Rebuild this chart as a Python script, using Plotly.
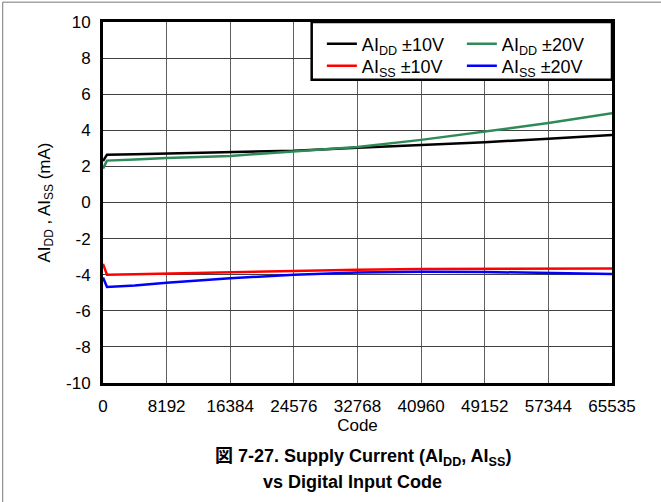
import plotly.graph_objects as go

# digital input code (x) and supply currents in mA (y)
code = [0, 512, 4096, 8192, 16384, 24576, 32768, 40960, 49152, 57344, 65535]
aidd_10v = [2.3, 2.65, 2.68, 2.71, 2.77, 2.87, 3.04, 3.17, 3.34, 3.53, 3.74]
aidd_20v = [1.88, 2.32, 2.38, 2.47, 2.58, 2.84, 3.08, 3.47, 3.93, 4.4, 4.94]
aiss_10v = [-3.4, -4.0, -3.98, -3.94, -3.85, -3.77, -3.72, -3.69, -3.67, -3.66, -3.65]
aiss_20v = [-4.15, -4.68, -4.6, -4.45, -4.2, -4.0, -3.88, -3.84, -3.85, -3.9, -3.96]

x_ticks = [0, 8192, 16384, 24576, 32768, 40960, 49152, 57344, 65535]
y_ticks = list(range(-10, 11, 2))

fig = go.Figure()

# two legend rows: AIDD in the first, AISS in the second
series = [
    ("AI<sub>DD</sub> ±10V", aidd_10v, "#000000", "legend"),
    ("AI<sub>DD</sub> ±20V", aidd_20v, "#2e8b57", "legend"),
    ("AI<sub>SS</sub> ±10V", aiss_10v, "#ff0000", "legend2"),
    ("AI<sub>SS</sub> ±20V", aiss_20v, "#0000ff", "legend2"),
]
for name, vals, color, leg in series:
    fig.add_trace(go.Scatter(
        x=code, y=vals, mode="lines", name=name, legend=leg,
        line=dict(color=color, width=2.5),
    ))

axis_font = dict(family="Liberation Sans, Arial", size=17, color="black")

fig.update_xaxes(
    range=[0, 65535], tickvals=x_ticks, ticktext=[str(v) for v in x_ticks],
    showgrid=True, gridcolor="#606060", gridwidth=1,
    showline=True, linecolor="black", linewidth=3, mirror=True,
    ticks="", tickfont=axis_font, zeroline=False, automargin=False,
    ticklabelstandoff=6,
    title=dict(text="Code", font=axis_font, standoff=0),
)
fig.update_yaxes(
    range=[-10, 10], tickvals=y_ticks, ticktext=[str(v) for v in y_ticks],
    showgrid=True, gridcolor="#404040", gridwidth=1,
    showline=True, linecolor="black", linewidth=3, mirror=True,
    ticks="", tickfont=axis_font, zeroline=False, automargin=False,
    ticklabelstandoff=6,
    title=dict(text="AI<sub>DD</sub> , AI<sub>SS</sub> (mA)", font=axis_font, standoff=12),
)

# caption under the chart
cap_font = dict(family="Liberation Sans, Noto Sans CJK JP", size=18, color="black")
fig.add_annotation(
    text="<b>図 7-27. Supply Current (AI<sub>DD</sub>, AI<sub>SS</sub>)</b>",
    xref="paper", yref="paper", x=0.51, y=-0.207, yanchor="middle", showarrow=False,
    font=cap_font,
)
fig.add_annotation(
    text="<b>vs Digital Input Code</b>",
    xref="paper", yref="paper", x=0.49, y=-0.274, yanchor="middle", showarrow=False,
    font=cap_font,
)

# legend box
fig.add_shape(type="rect", xref="paper", yref="paper", x0=0.41, x1=1, y0=0.84, y1=1,
              line=dict(color="black", width=2.5), fillcolor="white", layer="above")

# thin frame lines at the page's top and left edges
fig.add_shape(type="line", xref="paper", yref="paper", x0=-0.197, x1=1.2, y0=1.055, y1=1.055,
              line=dict(color="#777777", width=1))
fig.add_shape(type="line", xref="paper", yref="paper", x0=-0.197, x1=-0.197, y0=1.055, y1=-0.33,
              line=dict(color="#777777", width=1))

leg_font = dict(family="Liberation Sans, Arial", size=18, color="black")
leg_common = dict(orientation="h", xanchor="left", yanchor="top",
                  bgcolor="rgba(0,0,0,0)", borderwidth=0, font=leg_font,
                  entrywidth=95, itemwidth=30)

fig.update_layout(
    width=661, height=502,
    margin=dict(l=103, r=49, t=22, b=119),
    paper_bgcolor="white", plot_bgcolor="white",
    font=axis_font,
    showlegend=True,
    legend=dict(x=0.43, y=0.99, **leg_common),
    legend2=dict(x=0.43, y=0.929, **leg_common),
)

fig.write_html("out.html", config={"displayModeBar": False},
               post_script="document.body.style.margin='0';")
